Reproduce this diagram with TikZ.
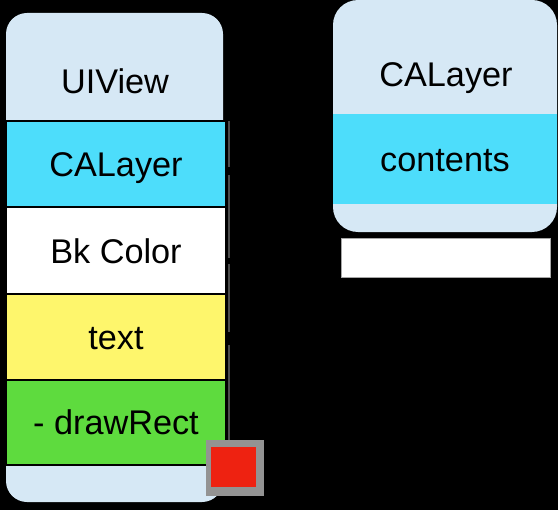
\documentclass[tikz,border=0pt]{standalone}
\usepackage{fontspec}
\setmainfont{Liberation Sans}
\definecolor{viewblue}{HTML}{D6E8F5}
\definecolor{layercyan}{HTML}{4DDDFB}
\definecolor{textyellow}{HTML}{FEF66C}
\definecolor{rectgreen}{HTML}{5EDB3E}
\definecolor{dotred}{HTML}{EE2211}
\tikzset{lbl/.style={font=\fontsize{19.5}{23}\selectfont, inner sep=0pt, anchor=base}}
\begin{document}
\begin{tikzpicture}[x=0.02cm, y=-0.02cm]
\fill[black] (0,0) rectangle (558,510);
\useasboundingbox (0,0) rectangle (558,510);
\fill[viewblue, rounded corners=0.42cm] (6,13) rectangle (223,502);
\node[lbl] (view) at (115,93) {UIView};
\foreach \top/\bot/\col/\txt/\nm in {121/207/layercyan/CALayer/layer, 207/294/white/Bk Color/bkcolor, 294/380/textyellow/text/text, 380/465/rectgreen/- drawRect/drawrect}
  {
  \filldraw[fill=\col, draw=black, line width=1.1pt] (6,\top) rectangle (226,\bot);
  \node[lbl] (\nm) at (116,{\bot-31}) {\txt};
  }
\foreach \a/\b in {121/167, 175/258, 264/332, 345/440} \draw[black!70, line width=1.1pt] (229,\a) -- (229,\b);
\fill[gray!85] (206,440) rectangle (264,496);
\fill[dotred] (210.5,447) rectangle (256,487);
\fill[viewblue, rounded corners=0.5cm] (333,0) rectangle (557,232);
\fill[layercyan] (333,114) rectangle (557,204);
\node[lbl] (calayer) at (446,87) {CALayer};
\node[lbl] (contents) at (445,172) {contents};
\filldraw[fill=white, draw=gray!70, line width=0.5pt] (341,238) rectangle (550,277);
\end{tikzpicture}
\end{document}
